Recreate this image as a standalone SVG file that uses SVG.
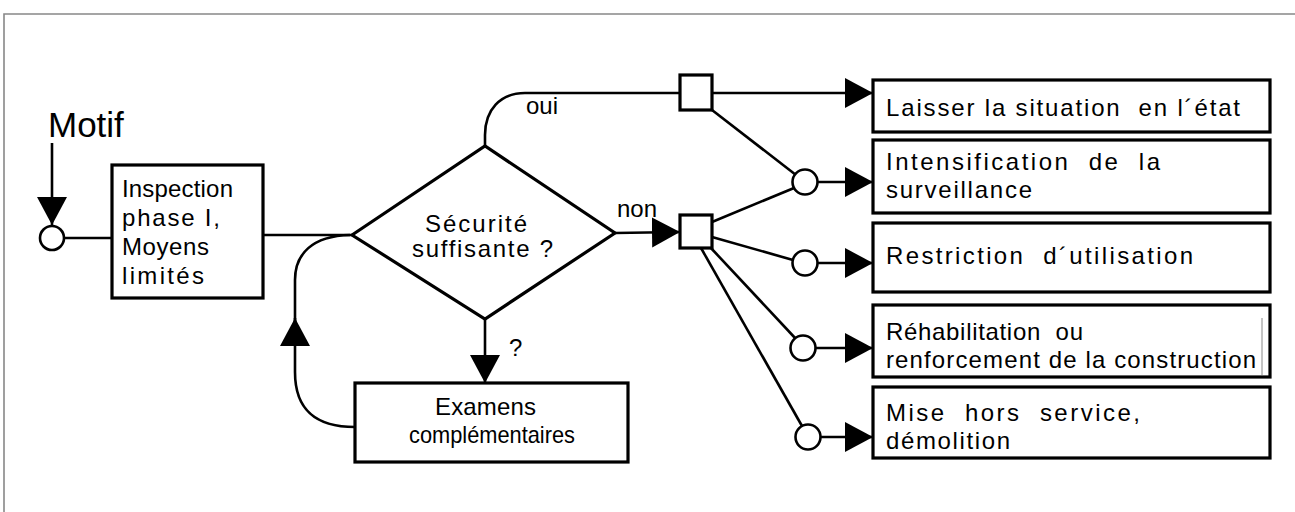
<svg xmlns="http://www.w3.org/2000/svg" width="1295" height="512" viewBox="0 0 1295 512">
<style>
.box{fill:#fff;stroke:#000;stroke-width:3.2}
.ln{fill:none;stroke:#000;stroke-width:2.6}
.circ{fill:#fff;stroke:#000;stroke-width:2.6}
.t{font-family:"Liberation Sans",Arial,sans-serif;font-size:24px;fill:#000;white-space:pre}
.frame{stroke:#888;stroke-width:1.6;fill:none}
</style>
<defs>
<marker id="ah" markerUnits="userSpaceOnUse" markerWidth="30" markerHeight="32" refX="28" refY="15" orient="auto" viewBox="0 0 30 32">
<path d="M0,0 L28,15 L0,30 Z" fill="#000"/>
</marker>
</defs>
<rect width="1295" height="512" fill="#fff"/>
<path class="frame" d="M4,512 L4,14 L1295,14"/>

<g id="connectors">
<line class="ln" x1="52" y1="143" x2="52" y2="225" marker-end="url(#ah)"/>
<line class="ln" x1="64" y1="238" x2="112" y2="238"/>
<line class="ln" x1="263" y1="235" x2="352" y2="235"/>
<path class="ln" d="M355,427 C318,427 295,412 295,372 L295,318" marker-end="url(#ah)"/>
<path class="ln" d="M295,340 L295,280 C295,254 312,236 350,235"/>
<line class="ln" x1="485" y1="319" x2="485" y2="383" marker-end="url(#ah)"/>
<path class="ln" d="M485,146 L485,135 C485,110 500,93 525,93 L680,93"/>
<line class="ln" x1="615" y1="233" x2="680" y2="232" marker-end="url(#ah)"/>
<line class="ln" x1="712" y1="93" x2="873" y2="93" marker-end="url(#ah)"/>
<line class="ln" x1="712" y1="110" x2="796" y2="175"/>
<line class="ln" x1="712" y1="222" x2="794" y2="188"/>
<line class="ln" x1="712" y1="237" x2="793" y2="260"/>
<line class="ln" x1="710" y1="247" x2="796" y2="339"/>
<line class="ln" x1="701" y1="248" x2="802" y2="426"/>
<line class="ln" x1="818" y1="182" x2="873" y2="182" marker-end="url(#ah)"/>
<line class="ln" x1="818" y1="263" x2="873" y2="263" marker-end="url(#ah)"/>
<line class="ln" x1="816" y1="348" x2="873" y2="348" marker-end="url(#ah)"/>
<line class="ln" x1="821" y1="437" x2="873" y2="437" marker-end="url(#ah)"/>
<text class="t" x="526" y="114">oui</text>
<text class="t" x="617" y="217">non</text>
<text class="t" x="509" y="356">?</text>
</g>

<g id="motif">
<text class="t" x="48" y="137" style="font-size:35px">Motif</text>
</g>
<g id="start">
<circle class="circ" cx="52" cy="238" r="12"/>
</g>

<g id="inspection">
<rect class="box" x="112" y="165" width="151" height="133"/>
<text class="t" x="122" y="197" textLength="111" lengthAdjust="spacing">Inspection</text>
<text class="t" x="122" y="226" textLength="98" lengthAdjust="spacing">phase I,</text>
<text class="t" x="122" y="255" textLength="87" lengthAdjust="spacing">Moyens</text>
<text class="t" x="122" y="284" textLength="82" lengthAdjust="spacing">limités</text>
</g>

<g id="decision">
<polygon points="352,235 485,146 615,233 485,319" fill="#fff" stroke="#000" stroke-width="3.2" stroke-linejoin="miter"/>
<text class="t" x="425" y="232" textLength="102" lengthAdjust="spacing">Sécurité</text>
<text class="t" x="412" y="257" textLength="141" lengthAdjust="spacing">suffisante ?</text>
</g>

<g id="examens">
<rect class="box" x="355" y="383" width="273" height="79"/>
<text class="t" x="435" y="415" textLength="101" lengthAdjust="spacing">Examens</text>
<text class="t" x="409" y="443" textLength="166" lengthAdjust="spacingAndGlyphs">complémentaires</text>
</g>

<g id="junction-oui"><rect class="box" x="680" y="75" width="32" height="35"/></g>
<g id="junction-non"><rect class="box" x="680" y="215" width="32" height="33"/></g>

<g id="c2"><circle class="circ" cx="805" cy="182" r="12.5"/></g>
<g id="c3"><circle class="circ" cx="805" cy="263" r="12.5"/></g>
<g id="c4"><circle class="circ" cx="803" cy="348" r="12.5"/></g>
<g id="c5"><circle class="circ" cx="808" cy="437" r="12.5"/></g>

<g id="b1">
<rect class="box" x="873" y="80" width="397" height="52"/>
<text class="t" x="886" y="116" textLength="354" lengthAdjust="spacing">Laisser la situation  en l´état</text>
</g>
<g id="b2">
<rect class="box" x="873" y="140" width="397" height="73"/>
<text class="t" x="886" y="170" textLength="274" lengthAdjust="spacing">Intensification  de  la</text>
<text class="t" x="886" y="198" textLength="146" lengthAdjust="spacing">surveillance</text>
</g>
<g id="b3">
<rect class="box" x="873" y="223" width="397" height="69"/>
<text class="t" x="886" y="264" textLength="307" lengthAdjust="spacing">Restriction  d´utilisation</text>
</g>
<g id="b4">
<rect class="box" x="873" y="305" width="397" height="72"/>
<line x1="1262" y1="318" x2="1262" y2="375" stroke="#888" stroke-width="1"/>
<text class="t" x="886" y="340" textLength="197" lengthAdjust="spacing">Réhabilitation  ou</text>
<text class="t" x="886" y="368" textLength="370" lengthAdjust="spacing">renforcement de la construction</text>
</g>
<g id="b5">
<rect class="box" x="873" y="387" width="397" height="71"/>
<text class="t" x="886" y="421" textLength="254" lengthAdjust="spacing">Mise  hors  service,</text>
<text class="t" x="886" y="449" textLength="124" lengthAdjust="spacing">démolition</text>
</g>
</svg>
